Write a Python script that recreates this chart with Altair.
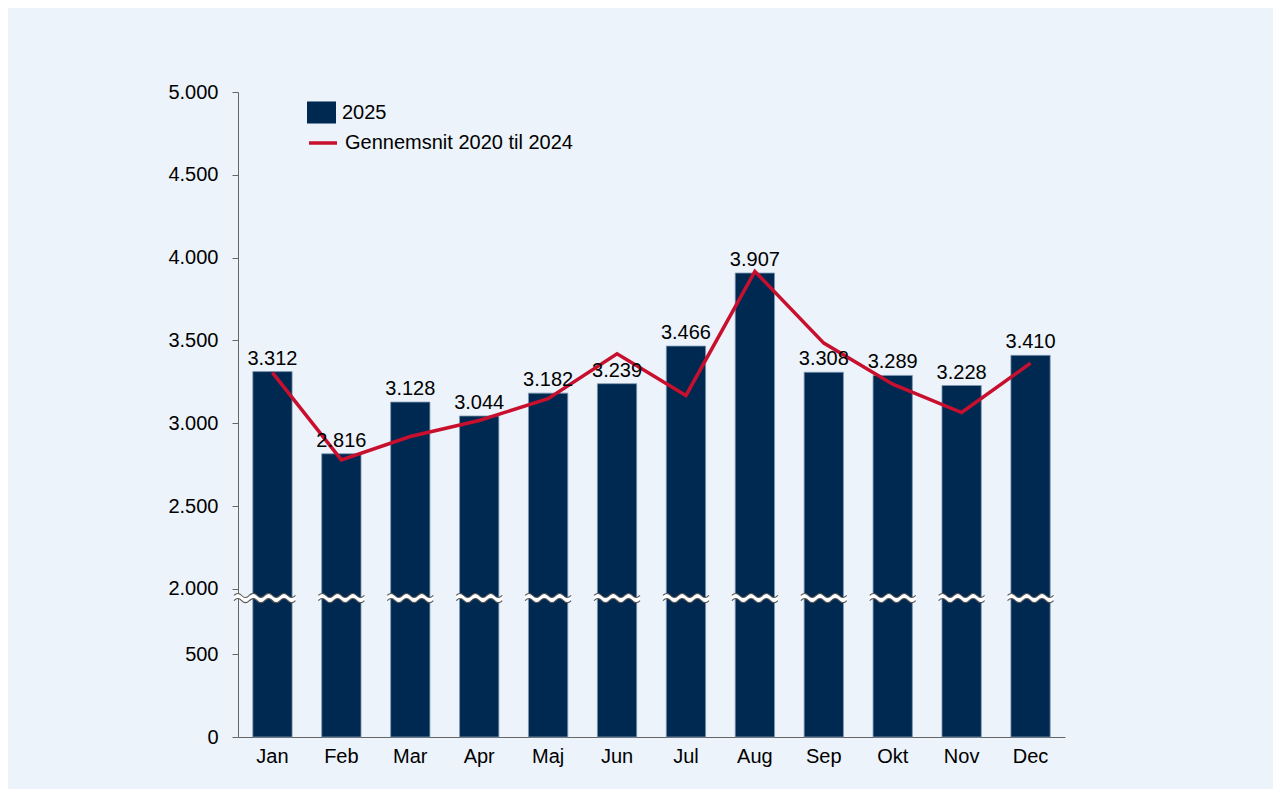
import altair as alt
import pandas as pd

# ---- data ----
months = ["Jan", "Feb", "Mar", "Apr", "Maj", "Jun", "Jul", "Aug", "Sep", "Okt", "Nov", "Dec"]
values_2025 = [3312, 2816, 3128, 3044, 3182, 3239, 3466, 3907, 3308, 3289, 3228, 3410]
avg_2020_2024 = [3306, 2779, 2920, 3017, 3148, 3419, 3168, 3917, 3484, 3236, 3065, 3363]
y_tick_values = [0, 500, 2000, 2500, 3000, 3500, 4000, 4500, 5000]
series_bar = "2025"
series_line = "Gennemsnit 2020 til 2024"

# broken axis: values from 2000 up are shifted down by CUT
CUT = 1106
BREAK_AT = 1945  # real value where the break marker sits


def disp(v):
    return v - CUT if v >= 1000 else v


NAVY = "#002952"
RED = "#C8102E"
BG = "#ECF3FA"
FONT = "Liberation Sans"
FS = 20

df = pd.DataFrame({
    "month": months,
    "v": values_2025,
    "vd": [disp(v) for v in values_2025],
    "label": [f"{v:,}".replace(",", ".") for v in values_2025],
    "avg": avg_2020_2024,
    "avgd": [disp(v) for v in avg_2020_2024],
    "s_bar": [series_bar] * len(months),
    "s_line": [series_line] * len(months),
    "brk": [disp(BREAK_AT)] * len(months),
})
axis_df = pd.DataFrame({"brk": [disp(BREAK_AT)]})

tick_disp = [disp(v) for v in y_tick_values]
ymax = disp(y_tick_values[-1])

xenc = alt.X("month:N", sort=months, title=None,
             scale=alt.Scale(paddingInner=0.43, paddingOuter=0.215),
             axis=alt.Axis(labelAngle=0, ticks=False, labelPadding=9, labelFontSize=FS,
                           labelFont=FONT, labelColor="#000", domainColor="#666"))
yscale = alt.Scale(domain=[0, ymax], nice=False, zero=True)
yaxis = alt.Axis(values=tick_disp, grid=False, title=None, tickSize=6, tickColor="#666",
                 domainColor="#666", labelPadding=14, labelFontSize=FS, labelFont=FONT,
                 labelColor="#000",
                 labelExpr=f"replace(format(datum.value >= {disp(2000) - 1} ? datum.value + {CUT} : datum.value, ','), ',', '.')")

base = alt.Chart(df)

bars = base.mark_bar(stroke="#7f97b0", strokeWidth=0.8).encode(
    x=xenc,
    y=alt.Y("vd:Q", scale=yscale, axis=yaxis),
    fill=alt.Fill("s_bar:N", scale=alt.Scale(domain=[series_bar], range=[NAVY]),
                  legend=alt.Legend(orient="none", legendX=69, legendY=6, title=None,
                                    symbolType="M-1,-0.76L1,-0.76L1,0.76L-1,0.76Z",
                                    symbolSize=841, symbolStrokeWidth=0,
                                    labelFontSize=FS, labelFont=FONT, labelColor="#000",
                                    labelOffset=6, labelLimit=0)),
)

# wave break marker shapes (unit box -1..1)
top = "M-1,-0.11Q-0.833,-0.29,-0.667,-0.11T-0.333,-0.11T0,-0.11T0.333,-0.11T0.667,-0.11T1,-0.11"
bot_fwd = "M-1,0.11Q-0.833,-0.07,-0.667,0.11T-0.333,0.11T0,0.11T0.333,0.11T0.667,0.11T1,0.11"
band = (top + "L1,0.11Q0.833,0.29,0.667,0.11T0.333,0.11T0,0.11T-0.333,0.11T-0.667,0.11T-1,0.11Z")
lines_shape = top + bot_fwd
WSIZE = 46 * 46

wave_fill = base.mark_point(shape=band, size=WSIZE, filled=True, color="white",
                            opacity=1, strokeWidth=0).encode(
    x=alt.X("month:N", sort=months), y=alt.Y("brk:Q", scale=yscale))
wave_line = base.mark_point(shape=lines_shape, size=WSIZE, filled=False, color="#555",
                            opacity=1, strokeWidth=1.1).encode(
    x=alt.X("month:N", sort=months), y=alt.Y("brk:Q", scale=yscale))

axis_fill = alt.Chart(axis_df).mark_point(shape=band, size=WSIZE, filled=True, color="white",
                                          opacity=1, strokeWidth=0).encode(
    x=alt.value(19), y=alt.Y("brk:Q", scale=yscale))
axis_line = alt.Chart(axis_df).mark_point(shape=lines_shape, size=WSIZE, filled=False,
                                          color="#555", opacity=1, strokeWidth=1.1).encode(
    x=alt.value(19), y=alt.Y("brk:Q", scale=yscale))

line = base.mark_line(strokeWidth=3.5).encode(
    x=alt.X("month:N", sort=months),
    y=alt.Y("avgd:Q", scale=yscale),
    stroke=alt.Stroke("s_line:N", scale=alt.Scale(domain=[series_line], range=[RED]),
                      legend=alt.Legend(orient="none", legendX=69, legendY=35, title=None,
                                        symbolType="stroke", symbolSize=784,
                                        symbolStrokeWidth=3.5,
                                        labelFontSize=FS, labelFont=FONT, labelColor="#000",
                                        labelOffset=6, labelLimit=0)),
)

text = base.mark_text(baseline="alphabetic", dy=-7, fontSize=FS, font=FONT, color="#000").encode(
    x=alt.X("month:N", sort=months),
    y=alt.Y("vd:Q", scale=yscale),
    text="label:N",
)

chart = alt.layer(bars, axis_fill, axis_line, wave_fill, wave_line, line, text).properties(
    width=827, height=645,
    padding={"left": 230, "top": 84, "right": 208, "bottom": 52},
    autosize=alt.AutoSizeParams(type="none"),
    background=BG,
).configure_view(stroke=None)

chart.save("out.html", embed_options={"renderer": "svg", "actions": False})
